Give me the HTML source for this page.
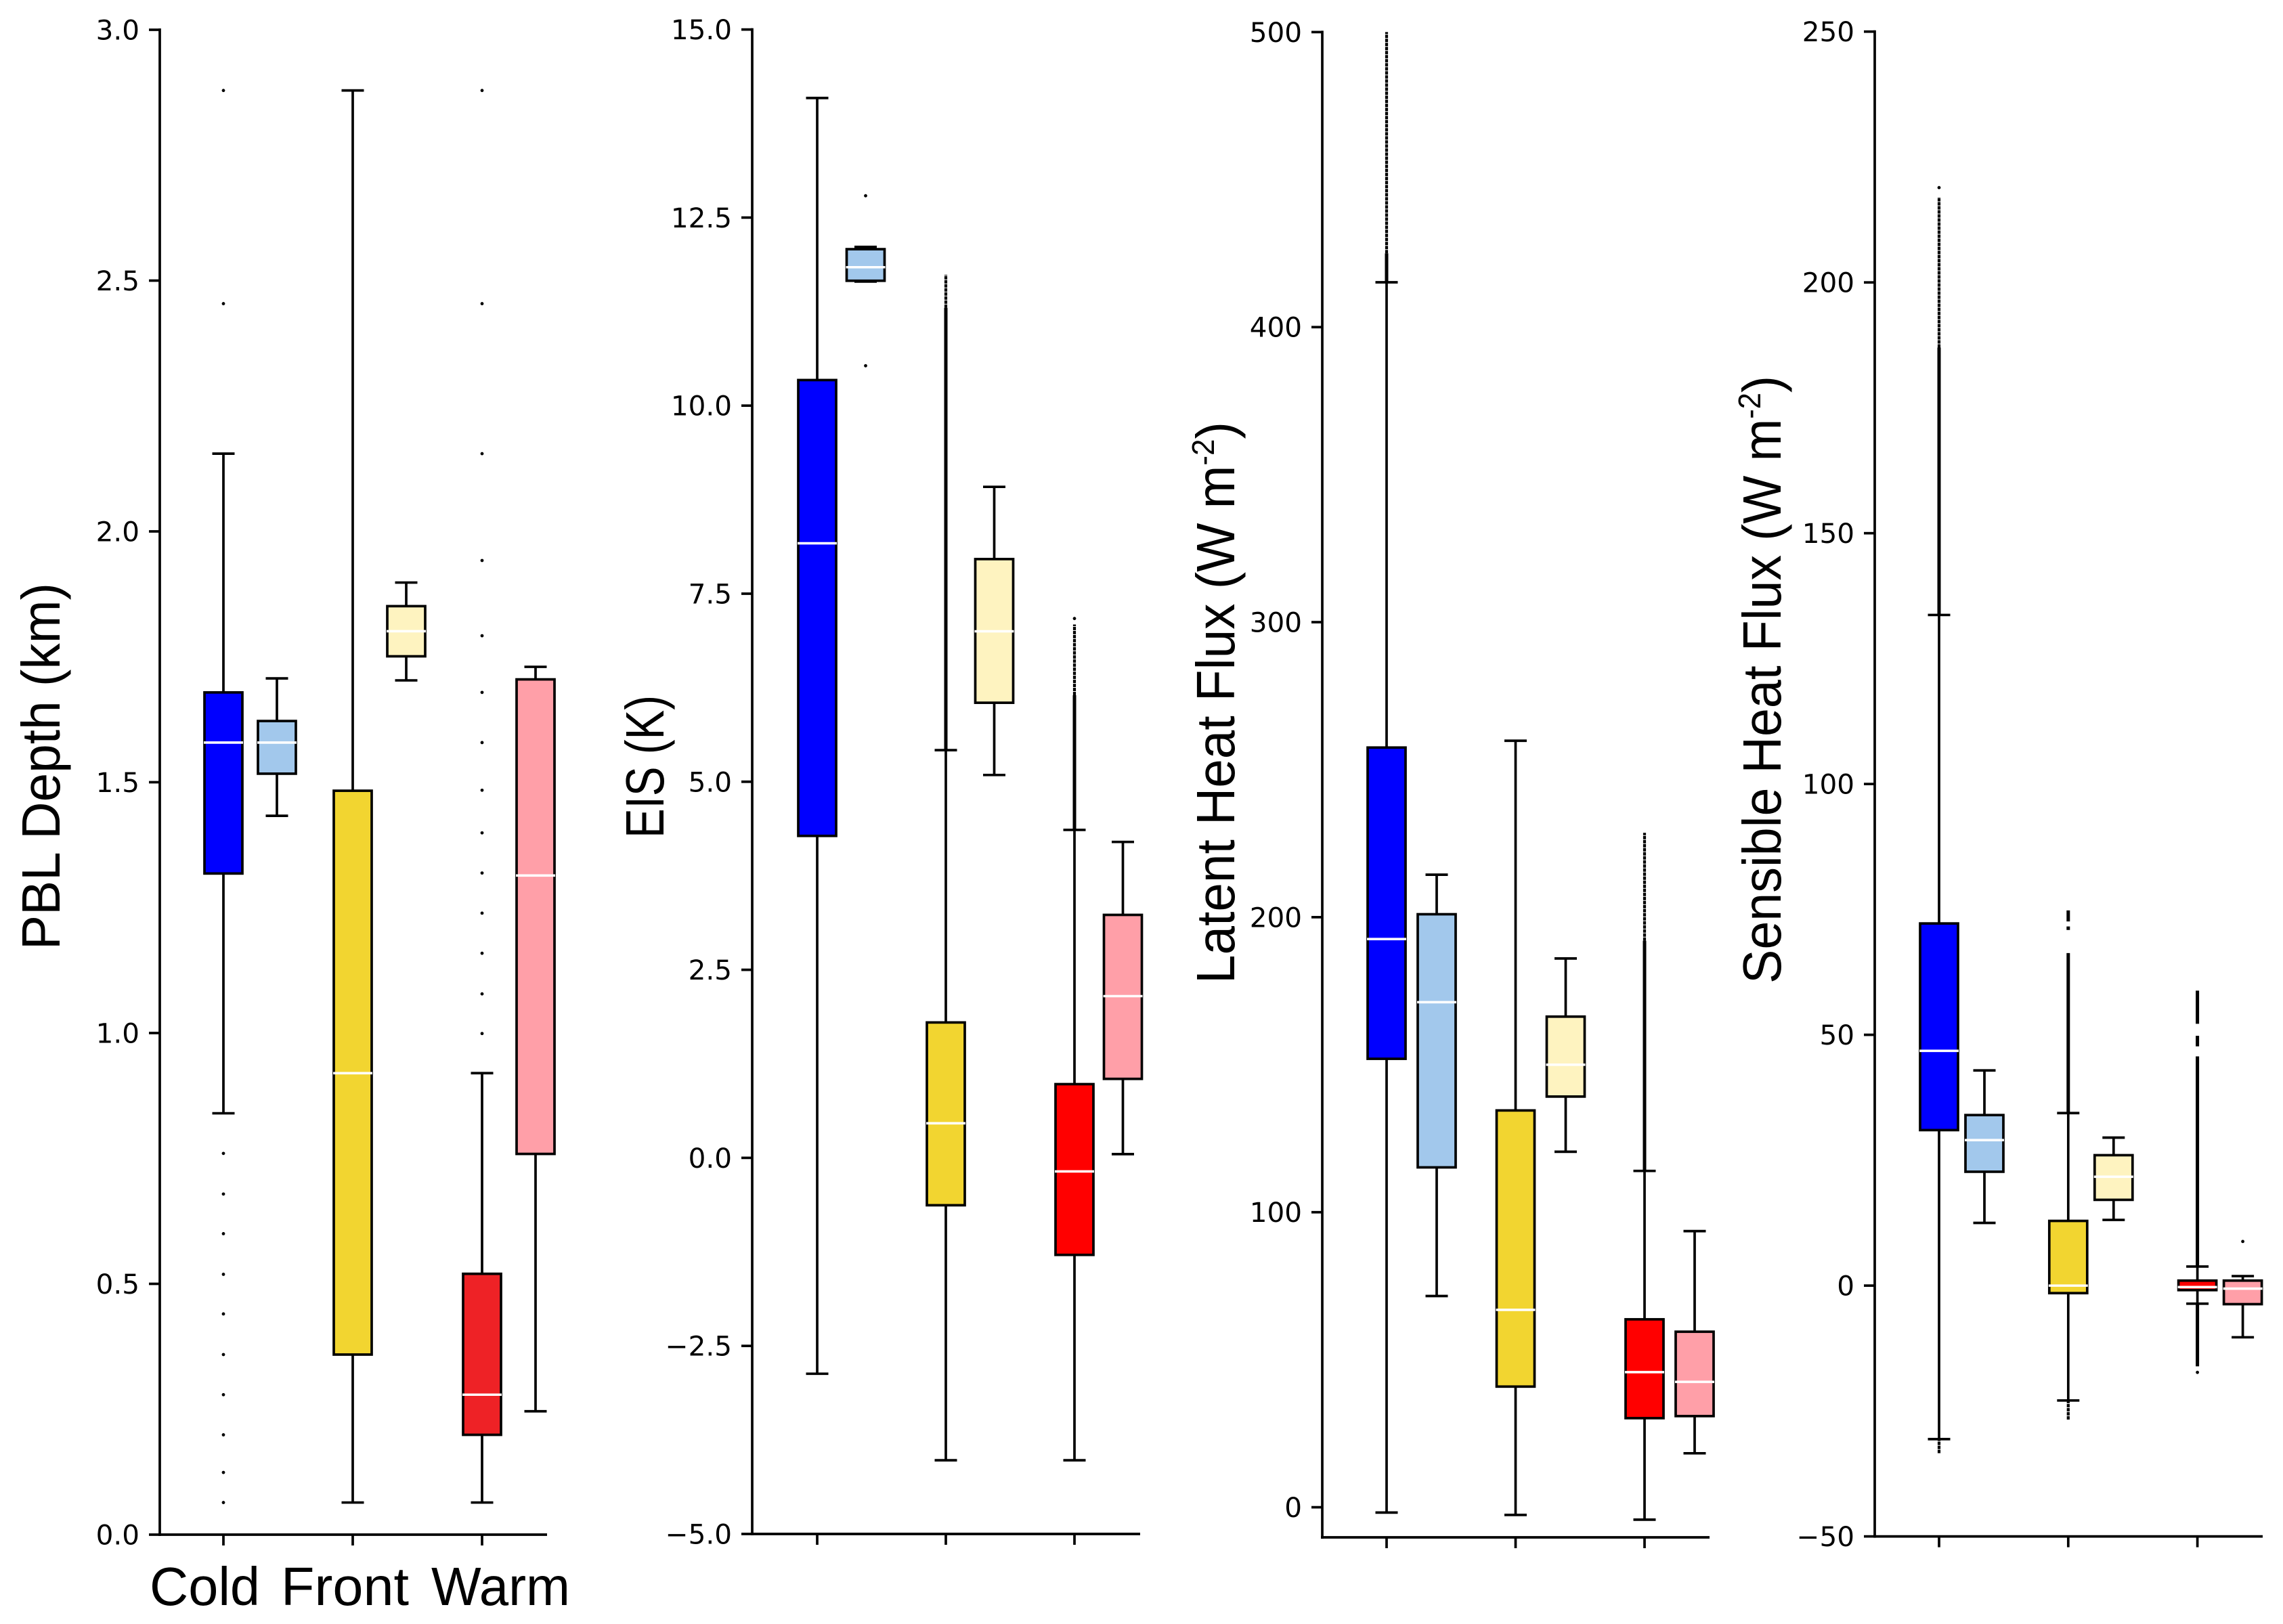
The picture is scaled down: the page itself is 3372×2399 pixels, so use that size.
<!DOCTYPE html>
<html lang="en">
<head>
<meta charset="utf-8">
<title>Boundary layer box plots</title>
<style>
html,body{margin:0;padding:0;background:#fff;width:3372px;height:2399px;overflow:hidden}
svg{display:block}
.tick{font-family:"DejaVu Sans",sans-serif;font-size:40.5px;fill:#000}
.lab{font-family:"Liberation Sans",sans-serif;font-size:80px;fill:#000}
</style>
</head>
<body>
<svg id="chart" xmlns="http://www.w3.org/2000/svg" width="3372" height="2399" viewBox="0 0 3372 2399">
  <rect width="3372" height="2399" fill="#fff"/>
  <text class="lab" transform="translate(88,1403) rotate(-90)" textLength="542" lengthAdjust="spacingAndGlyphs">PBL Depth (km)</text>
  <text class="lab" transform="translate(980,1238) rotate(-90)" textLength="211" lengthAdjust="spacingAndGlyphs">EIS (K)</text>
  <text class="lab" transform="translate(1823,1453) rotate(-90)" textLength="830" lengthAdjust="spacingAndGlyphs">Latent Heat Flux (W m<tspan font-size="46" dy="-30">-2</tspan><tspan dy="30">)</tspan></text>
  <text class="lab" transform="translate(2630,1453) rotate(-90)" textLength="898" lengthAdjust="spacingAndGlyphs">Sensible Heat Flux (W m<tspan font-size="46" dy="-30">-2</tspan><tspan dy="30">)</tspan></text>
  <text class="lab" x="221" y="2371" textLength="163" lengthAdjust="spacingAndGlyphs">Cold</text>
  <text class="lab" x="415" y="2371" textLength="189" lengthAdjust="spacingAndGlyphs">Front</text>
  <text class="lab" x="637" y="2371" textLength="205" lengthAdjust="spacingAndGlyphs">Warm</text>
</svg>
<script>
// Box order: cold-a, cold-b, front-a, front-b, warm-a, warm-b
const boxNames = ['cold-dark','cold-light','front-dark','front-light','warm-dark','warm-light'];

// PBL depth (km)
const pblTicks = ['0.0','0.5','1.0','1.5','2.0','2.5','3.0'];
const pblHigh = [2.155,1.707,2.879,1.898,0.92,1.73];
const pblQ3 = [1.679,1.622,1.483,1.851,0.52,1.705];
const pblMedian = [1.579,1.579,0.92,1.801,0.279,1.314];
const pblQ1 = [1.318,1.517,0.359,1.751,0.199,0.759];
const pblLow = [0.84,1.433,0.064,1.703,0.064,0.246];
const pblFliers = [
  [2.879,2.454,0.76,0.679,0.6,0.519,0.44,0.359,0.279,0.199,0.124,0.064],
  [],[],[],
  [2.879,2.454,2.155,1.942,1.792,1.679,1.579,1.484,1.399,1.319,1.239,1.159,1.078,0.999],
  []
];
const pblFlierRuns = [[],[],[],[],[],[]];
const pblSparseRuns = [[],[],[],[],[],[]];

// EIS (K)
const eisTicks = ['\u22125.0','\u22122.5','0.0','2.5','5.0','7.5','10.0','12.5','15.0'];
const eisHigh = [14.09,12.11,5.42,8.92,4.36,4.2];
const eisQ3 = [10.34,12.08,1.8,7.96,0.98,3.23];
const eisMedian = [8.17,11.84,0.46,7.0,-0.18,2.15];
const eisQ1 = [4.28,11.66,-0.63,6.05,-1.29,1.05];
const eisLow = [-2.87,11.65,-4.02,5.09,-4.02,0.05];
const eisFliers = [[],[12.79,10.53],[],[],[7.17],[]];
const eisFlierRuns = [[],[],[[5.42,11.3]],[],[[4.36,6.15]],[]];
const eisSparseRuns = [[],[],[[11.3,11.74]],[],[[6.15,7.09]],[]];

// Latent heat flux (W m-2)
const lhfTicks = ['0','100','200','300','400','500'];
const lhfHigh = [415.2,214.4,259.8,186,114,93.6];
const lhfQ3 = [257.5,201,134.5,166.3,63.7,59.5];
const lhfMedian = [192.6,171.2,66.9,150,45.8,42.5];
const lhfQ1 = [152,115.2,40.9,139.2,30.2,30.9];
const lhfLow = [-1.8,71.6,-2.6,120.5,-4.2,18.3];
const lhfFliers = [[],[],[],[],[],[]];
const lhfFlierRuns = [[[415.2,425]],[],[],[],[[114,192]],[]];
const lhfSparseRuns = [[[425,500]],[],[],[],[[192,228.6]],[]];

// Sensible heat flux (W m-2)
const shfTicks = ['\u221250','0','50','100','150','200','250'];
const shfHigh = [133.7,42.9,34.4,29.5,3.8,1.9];
const shfQ3 = [72.2,34,12.9,26,1,1];
const shfMedian = [46.8,29,0,21.7,-0.3,-0.6];
const shfQ1 = [31,22.7,-1.5,17.1,-0.9,-3.7];
const shfLow = [-30.6,12.5,-22.9,13.1,-3.6,-10.3];
const shfFliers = [
  [218.9],
  [],
  [],
  [],
  [-17.3],
  [8.8]
];
const shfFlierRuns = [[[133.7,187]],[],[[34.4,66.3],[72.6,74.8],[70.9,71.6]],[],[[3.8,45.7],[-16.1,-3.6],[47.7,49.8],[52.2,58.8]],[]];
const shfSparseRuns = [[[187,217],[-33.4,-30.6]],[],[[-26.7,-22.9]],[],[],[]];

const categoryTickCount = 3;

const SVGNS = 'http://www.w3.org/2000/svg';
const svg = document.getElementById('chart');
function mk(tag, attrs, parent) {
  const n = document.createElementNS(SVGNS, tag);
  for (const k in attrs) n.setAttribute(k, attrs[k]);
  parent.appendChild(n);
  return n;
}
function line(parent, x1, y1, x2, y2, sw, color) {
  return mk('line', {x1:x1, y1:y1, x2:x2, y2:y2, stroke:color || '#000', 'stroke-width':sw}, parent);
}

const LW = 3.7;
const BOX_W = 56;
const CAP_W = 33;

function drawPanel(cfg) {
  const g = mk('g', {}, svg);
  
  
  const y = v => cfg.yTop + (cfg.vMax - v) * (cfg.yBot - cfg.yTop) / (cfg.vMax - cfg.vMin);
  const cx = i => cfg.xFirst + Math.floor(i / 2) * cfg.xStep + (i % 2 ? cfg.offset : 0);

  // spines
  const ySpine = line(g, cfg.x0, cfg.yTop - 2, cfg.x0, cfg.yBot + 2, LW);
  
  
  const xSpine = line(g, cfg.x0 - 2, cfg.yBot, cfg.xEnd, cfg.yBot, LW);
  
  

  // y ticks
  cfg.ticks.forEach(t => {
    const v = parseFloat(t.replace('\u2212', '-'));
    const py = y(v);
    const tk = line(g, cfg.x0 - 16, py, cfg.x0, py, LW);
    
    
    const lb = mk('text', {class:'tick', x:cfg.x0 - 30, y:py + 14.5, 'text-anchor':'end'}, g);
    lb.textContent = t;
    
    
  });

  // x ticks
  for (let c = 0; c < categoryTickCount; c++) {
    const px = cfg.xFirst + c * cfg.xStep;
    const tk = line(g, px, cfg.yBot, px, cfg.yBot + 16, LW);
    
    
  }

  // boxes
  boxNames.forEach((bn, i) => {
    const x = cx(i);
    const b = mk('g', {}, g);
    
    

    const w1 = line(b, x, y(cfg.high[i]), x, y(cfg.q3[i]), LW);
    
    
    const w2 = line(b, x, y(cfg.q1[i]), x, y(cfg.low[i]), LW);
    
    
    const c1 = line(b, x - CAP_W / 2, y(cfg.high[i]), x + CAP_W / 2, y(cfg.high[i]), LW);
    
    
    const c2 = line(b, x - CAP_W / 2, y(cfg.low[i]), x + CAP_W / 2, y(cfg.low[i]), LW);
    
    

    cfg.runs[i].forEach(r => {
      const run = line(b, x, y(r[0]), x, y(r[1]), 5);
      
      
    });
    cfg.sparse[i].forEach(r => {
      const run = line(b, x, y(r[0]), x, y(r[1]), 4.2);
      run.setAttribute('stroke-dasharray', '5 1');
      
      
    });
    cfg.fliers[i].forEach(v => {
      const d = mk('circle', {cx:x, cy:y(v), r:2.4, fill:'#000'}, b);
      
      
    });

    const top = y(cfg.q3[i]);
    const h = y(cfg.q1[i]) - top;
    const r = mk('rect', {x:x - BOX_W / 2, y:top, width:BOX_W, height:h, fill:cfg.colors[i], stroke:'#000', 'stroke-width':LW}, b);
    
    
    const m = line(b, x - 29, y(cfg.median[i]), x + 29, y(cfg.median[i]), 3.6, '#fff');
    
    
  });
}

drawPanel({name:'pbl-depth', x0:236, xEnd:808, yTop:44, yBot:2267, vMin:0, vMax:3, xFirst:330, xStep:191, offset:79,
  ticks:pblTicks, high:pblHigh, q3:pblQ3, median:pblMedian, q1:pblQ1, low:pblLow, fliers:pblFliers, runs:pblFlierRuns, sparse:pblSparseRuns,
  colors:['#0000ff','#a2c8ec','#f2d530','#fef3c0','#ee2226','#ff9fa8']});
drawPanel({name:'eis', x0:1111, xEnd:1684, yTop:43.6, yBot:2266, vMin:-5, vMax:15, xFirst:1207, xStep:190, offset:71.5,
  ticks:eisTicks, high:eisHigh, q3:eisQ3, median:eisMedian, q1:eisQ1, low:eisLow, fliers:eisFliers, runs:eisFlierRuns, sparse:eisSparseRuns,
  colors:['#0000ff','#a2c8ec','#f2d530','#fef3c0','#ff0000','#ff9fa8']});
drawPanel({name:'latent-heat-flux', x0:1953, xEnd:2525, yTop:47.4, yBot:2271, vMin:-10.2, vMax:500, xFirst:2048, xStep:190.5, offset:74,
  ticks:lhfTicks, high:lhfHigh, q3:lhfQ3, median:lhfMedian, q1:lhfQ1, low:lhfLow, fliers:lhfFliers, runs:lhfFlierRuns, sparse:lhfSparseRuns,
  colors:['#0000ff','#a2c8ec','#f2d530','#fef3c0','#ff0000','#ff9fa8']});
drawPanel({name:'sensible-heat-flux', x0:2769, xEnd:3342, yTop:46.7, yBot:2269.6, vMin:-50, vMax:250, xFirst:2864, xStep:190.8, offset:67,
  ticks:shfTicks, high:shfHigh, q3:shfQ3, median:shfMedian, q1:shfQ1, low:shfLow, fliers:shfFliers, runs:shfFlierRuns, sparse:shfSparseRuns,
  colors:['#0000ff','#a2c8ec','#f2d530','#fef3c0','#ff0000','#ff9fa8']});
</script>
</body>
</html>
